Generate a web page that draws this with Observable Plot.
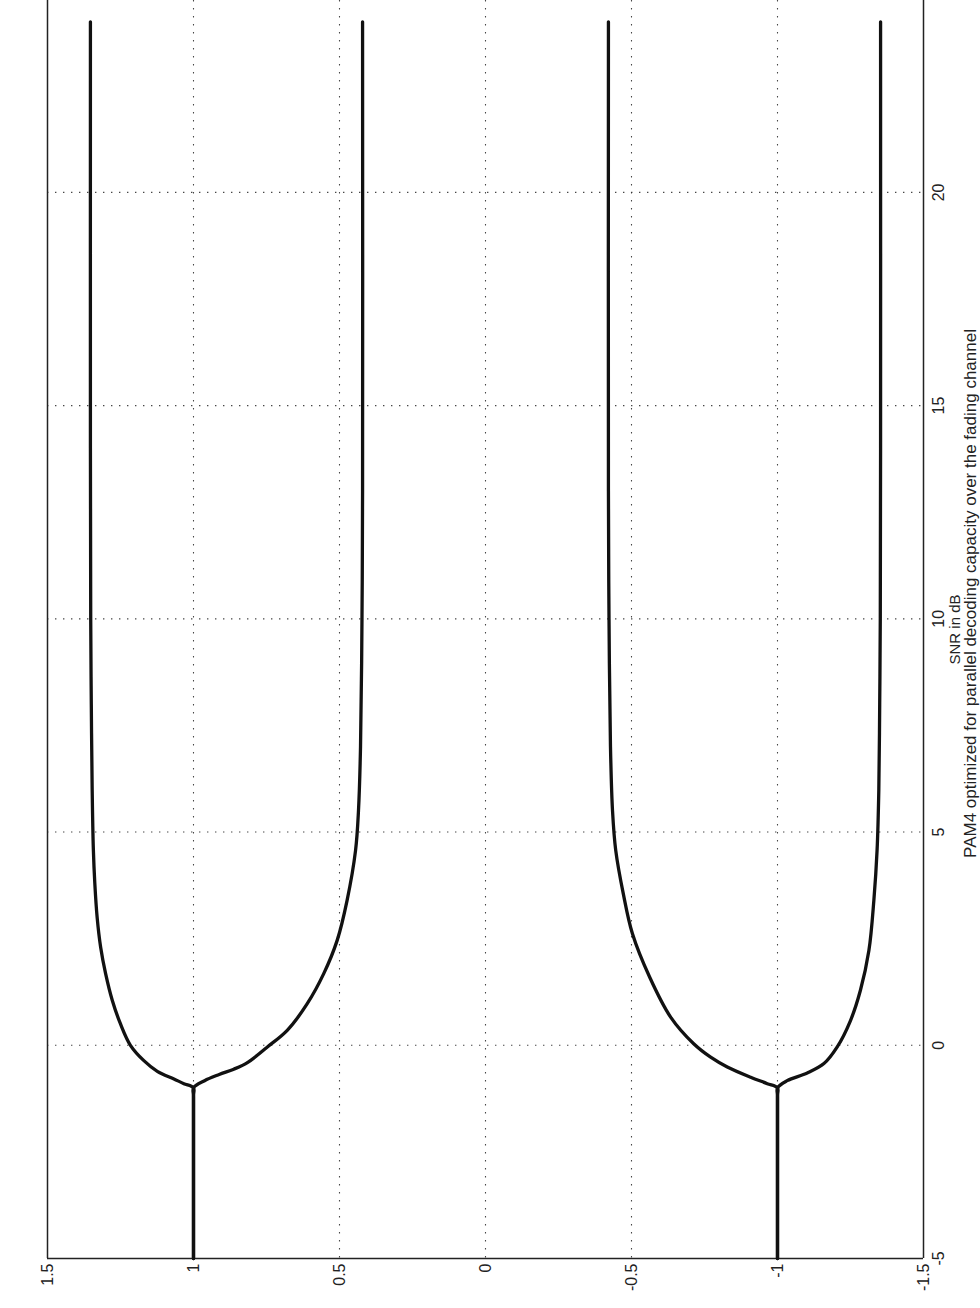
<!DOCTYPE html>
<html>
<head>
<meta charset="utf-8">
<script src="https://cdn.jsdelivr.net/npm/d3@7"></script>
<script src="https://cdn.jsdelivr.net/npm/@observablehq/plot@0.6"></script>
<style>
  html, body { margin: 0; padding: 0; background: #fff; }
  #chart svg { display: block; }
</style>
</head>
<body>
<div id="chart"></div>
<script>
// ---- Tick labels and text ----
const ampTicks = [1.5, 1, 0.5, 0, -0.5, -1, -1.5];
const snrTicks = [-5, 0, 5, 10, 15, 20];
const titleText = "PAM4 optimized for parallel decoding capacity over the fading channel";
const xLabelText = "SNR in dB";

// ---- Series (SNR in dB, constellation amplitude) ----
const snrUpperOuter = [-5, -1.2, -1, -0.9, -0.79, -0.61, -0.36, 0, 0.5, 1.05, 1.68, 2.3, 3.0, 3.8, 4.6, 6, 8, 10, 14, 24];
const ampUpperOuter = [1, 1, 1, 1.033, 1.067, 1.124, 1.17, 1.216, 1.25, 1.278, 1.301, 1.318, 1.33, 1.338, 1.343, 1.347, 1.35, 1.352, 1.353, 1.353];

const snrUpperInner = [-5, -1.2, -1, -0.83, -0.685, -0.56, -0.4, -0.045, 0.35, 0.97, 1.68, 2.46, 3.4, 4.57, 5.5, 7, 10, 13, 24];
const ampUpperInner = [1, 1, 1, 0.962, 0.912, 0.862, 0.814, 0.748, 0.679, 0.611, 0.554, 0.508, 0.474, 0.445, 0.435, 0.428, 0.423, 0.421, 0.421];

const snrLowerInner = [-5, -1.2, -1, -0.9, -0.75, -0.51, -0.28, 0.035, 0.66, 1.6, 2.62, 3.55, 4.57, 5.5, 7, 10, 13, 24];
const ampLowerInner = [-1, -1, -1, -0.965, -0.908, -0.828, -0.771, -0.713, -0.634, -0.562, -0.503, -0.472, -0.446, -0.435, -0.428, -0.423, -0.421, -0.421];

const snrLowerOuter = [-5, -1.2, -1, -0.83, -0.65, -0.43, -0.045, 0.58, 1.29, 2.22, 3.4, 4.57, 6, 8, 10, 14, 24];
const ampLowerOuter = [-1, -1, -1, -1.033, -1.102, -1.159, -1.204, -1.25, -1.284, -1.313, -1.33, -1.341, -1.347, -1.35, -1.352, -1.353, -1.353];

const seriesList = [
  {name: "upper outer", snr: snrUpperOuter, amp: ampUpperOuter},
  {name: "upper inner", snr: snrUpperInner, amp: ampUpperInner},
  {name: "lower inner", snr: snrLowerInner, amp: ampLowerInner},
  {name: "lower outer", snr: snrLowerOuter, amp: ampLowerOuter}
];
const rows = seriesList.flatMap(s => s.snr.map((v, i) => ({name: s.name, snr: v, amp: s.amp[i]})));

const gridStyle = {stroke: "#333", strokeWidth: 1.1, strokeDasharray: "1.4,6.6", strokeOpacity: 0.9};
const fontStack = "'Liberation Sans', Arial, Helvetica, sans-serif";

const chart = Plot.plot({
  width: 980,
  height: 1308,
  marginLeft: 47,
  marginRight: 57,
  marginTop: 0,
  marginBottom: 50,
  x: {domain: [1.5, -1.5]},
  y: {domain: [-5, 24.5]},
  style: {fontFamily: fontStack, fontSize: "16px", color: "#222", background: "#fff"},
  marks: [
    Plot.ruleX(ampTicks.slice(1, -1), gridStyle),
    Plot.ruleY(snrTicks.slice(1), gridStyle),
    Plot.ruleX([ampTicks[0], ampTicks[ampTicks.length - 1]], {stroke: "#222", strokeWidth: 1.5}),
    Plot.ruleY([snrTicks[0]], {stroke: "#222", strokeWidth: 1.5}),
    Plot.line(rows, {x: "amp", y: "snr", z: "name", stroke: "#111", strokeWidth: 3.3, curve: "catmull-rom"}),
    Plot.axisX(ampTicks, {anchor: "bottom", tickSize: 0, tickRotate: -90, textAnchor: "end", lineAnchor: "middle", tickPadding: 5, tickFormat: d => String(d), label: null, fontSize: 16}),
    Plot.axisY(snrTicks, {anchor: "right", tickSize: 0, tickRotate: -90, textAnchor: "middle", lineAnchor: "top", tickPadding: 9, tickFormat: d => String(d), label: null, fontSize: 16}),
    Plot.text([xLabelText], {frameAnchor: "right", rotate: -90, textAnchor: "middle", lineAnchor: "top", dx: 26, dy: 0, fontSize: 15}),
    Plot.text([titleText], {frameAnchor: "right", rotate: -90, textAnchor: "middle", lineAnchor: "top", dx: 40, dy: -36, fontSize: 17, letterSpacing: "1.2px"})
  ]
});
document.getElementById("chart").appendChild(chart);
</script>
</body>
</html>
